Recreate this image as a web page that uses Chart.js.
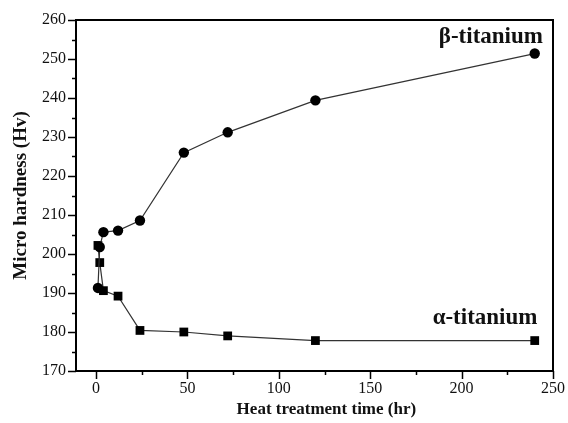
<!DOCTYPE html>
<html><head><meta charset="utf-8">
<script src="https://cdn.jsdelivr.net/npm/chart.js@4"></script>
<style>html,body{margin:0;padding:0;background:#fff}canvas{display:block}</style>
</head><body>
<canvas id="c" width="568" height="423"></canvas>
<script>
// Data
const hours = [1, 2, 4, 12, 24, 48, 72, 120, 240];
const betaHv = [191.3, 201.8, 205.6, 206.0, 208.6, 226.0, 231.2, 239.4, 251.4];
const alphaHv = [202.2, 197.8, 190.6, 189.2, 180.4, 180.0, 179.0, 177.8, 177.8];
const xTickLabels = [0, 50, 100, 150, 200, 250];
const xMinorTicks = [25, 75, 125, 175, 225];
const yTickLabels = [170, 180, 190, 200, 210, 220, 230, 240, 250, 260];
const yMinorTicks = [175, 185, 195, 205, 215, 225, 235, 245, 255];
const xTitle = 'Heat treatment time (hr)';
const yTitle = 'Micro hardness (Hv)';
const betaLabel = 'β-titanium';
const alphaLabel = 'α-titanium';

const SERIF = '"Liberation Serif", "Times New Roman", serif';

const toPts = (xs, ys) => xs.map((x, i) => ({x: x, y: ys[i]}));

const framePlugin = {
  id: 'frame',
  afterDraw(chart) {
    const {ctx, chartArea: a, scales} = chart;
    const xs = scales.x, ys = scales.y;
    ctx.save();
    ctx.strokeStyle = '#000';
    ctx.lineWidth = 2;
    ctx.strokeRect(a.left, a.top, a.right - a.left, a.bottom - a.top);
    ctx.lineWidth = 1.5;
    ctx.beginPath();
    yTickLabels.forEach(v => { const p = Math.round(ys.getPixelForValue(v)) + 0.5; ctx.moveTo(a.left - 8, p); ctx.lineTo(a.left, p); });
    yMinorTicks.forEach(v => { const p = Math.round(ys.getPixelForValue(v)) + 0.5; ctx.moveTo(a.left - 4, p); ctx.lineTo(a.left, p); });
    xTickLabels.forEach(v => { const p = Math.round(xs.getPixelForValue(v)) + 0.5; ctx.moveTo(p, a.bottom); ctx.lineTo(p, a.bottom + 8); });
    xMinorTicks.forEach(v => { const p = Math.round(xs.getPixelForValue(v)) + 0.5; ctx.moveTo(p, a.bottom); ctx.lineTo(p, a.bottom + 4); });
    ctx.stroke();

    ctx.fillStyle = '#111';
    ctx.font = 'bold 17px ' + SERIF;
    ctx.textAlign = 'center';
    ctx.textBaseline = 'middle';
    ctx.fillText(xTitle, xs.getPixelForValue(126), 410);
    ctx.save();
    ctx.font = 'bold 19px ' + SERIF;
    ctx.translate(21, (a.top + a.bottom) / 2);
    ctx.rotate(-Math.PI / 2);
    ctx.fillText(yTitle, 0, 0);
    ctx.restore();

    ctx.font = 'bold 23px ' + SERIF;
    ctx.textAlign = 'right';
    ctx.textBaseline = 'alphabetic';
    ctx.fillText(betaLabel, xs.getPixelForValue(244.5), ys.getPixelForValue(254.1));
    ctx.fillText(alphaLabel, xs.getPixelForValue(241.5), ys.getPixelForValue(182));
    ctx.restore();
  }
};

new Chart(document.getElementById('c'), {
  type: 'scatter',
  data: {
    datasets: [
      {
        label: betaLabel,
        data: toPts(hours, betaHv),
        showLine: true,
        borderColor: '#333',
        borderWidth: 1.2,
        pointStyle: 'circle',
        pointRadius: 5.2,
        pointBackgroundColor: '#000',
        pointBorderColor: '#000',
        pointBorderWidth: 0
      },
      {
        label: alphaLabel,
        data: toPts(hours, alphaHv),
        showLine: true,
        borderColor: '#333',
        borderWidth: 1.2,
        pointStyle: 'rect',
        pointRadius: 6.2,
        pointBackgroundColor: '#000',
        pointBorderColor: '#000',
        pointBorderWidth: 0
      }
    ]
  },
  options: {
    responsive: false,
    devicePixelRatio: 1,
    animation: false,
    layout: {padding: {top: 20, right: 15, left: 0, bottom: 0}},
    plugins: {legend: {display: false}, tooltip: {enabled: false}},
    scales: {
      x: {
        type: 'linear',
        min: -11,
        max: 250,
        afterBuildTicks: s => { s.ticks = xTickLabels.map(v => ({value: v})); },
        afterFit: s => { s.height = 52; s.paddingLeft = 0; s.paddingRight = 0; },
        grid: {display: false, drawTicks: false},
        border: {display: false},
        ticks: {color: '#111', font: {family: SERIF, size: 16}, padding: 8, maxRotation: 0, autoSkip: false}
      },
      y: {
        type: 'linear',
        min: 170,
        max: 260,
        afterBuildTicks: s => { s.ticks = yTickLabels.map(v => ({value: v})); },
        afterFit: s => { s.width = 76; s.paddingTop = 0; s.paddingBottom = 0; },
        grid: {display: false, drawTicks: false},
        border: {display: false},
        ticks: {color: '#111', font: {family: SERIF, size: 16}, padding: 10, autoSkip: false}
      }
    }
  },
  plugins: [framePlugin]
});
</script>
</body></html>
